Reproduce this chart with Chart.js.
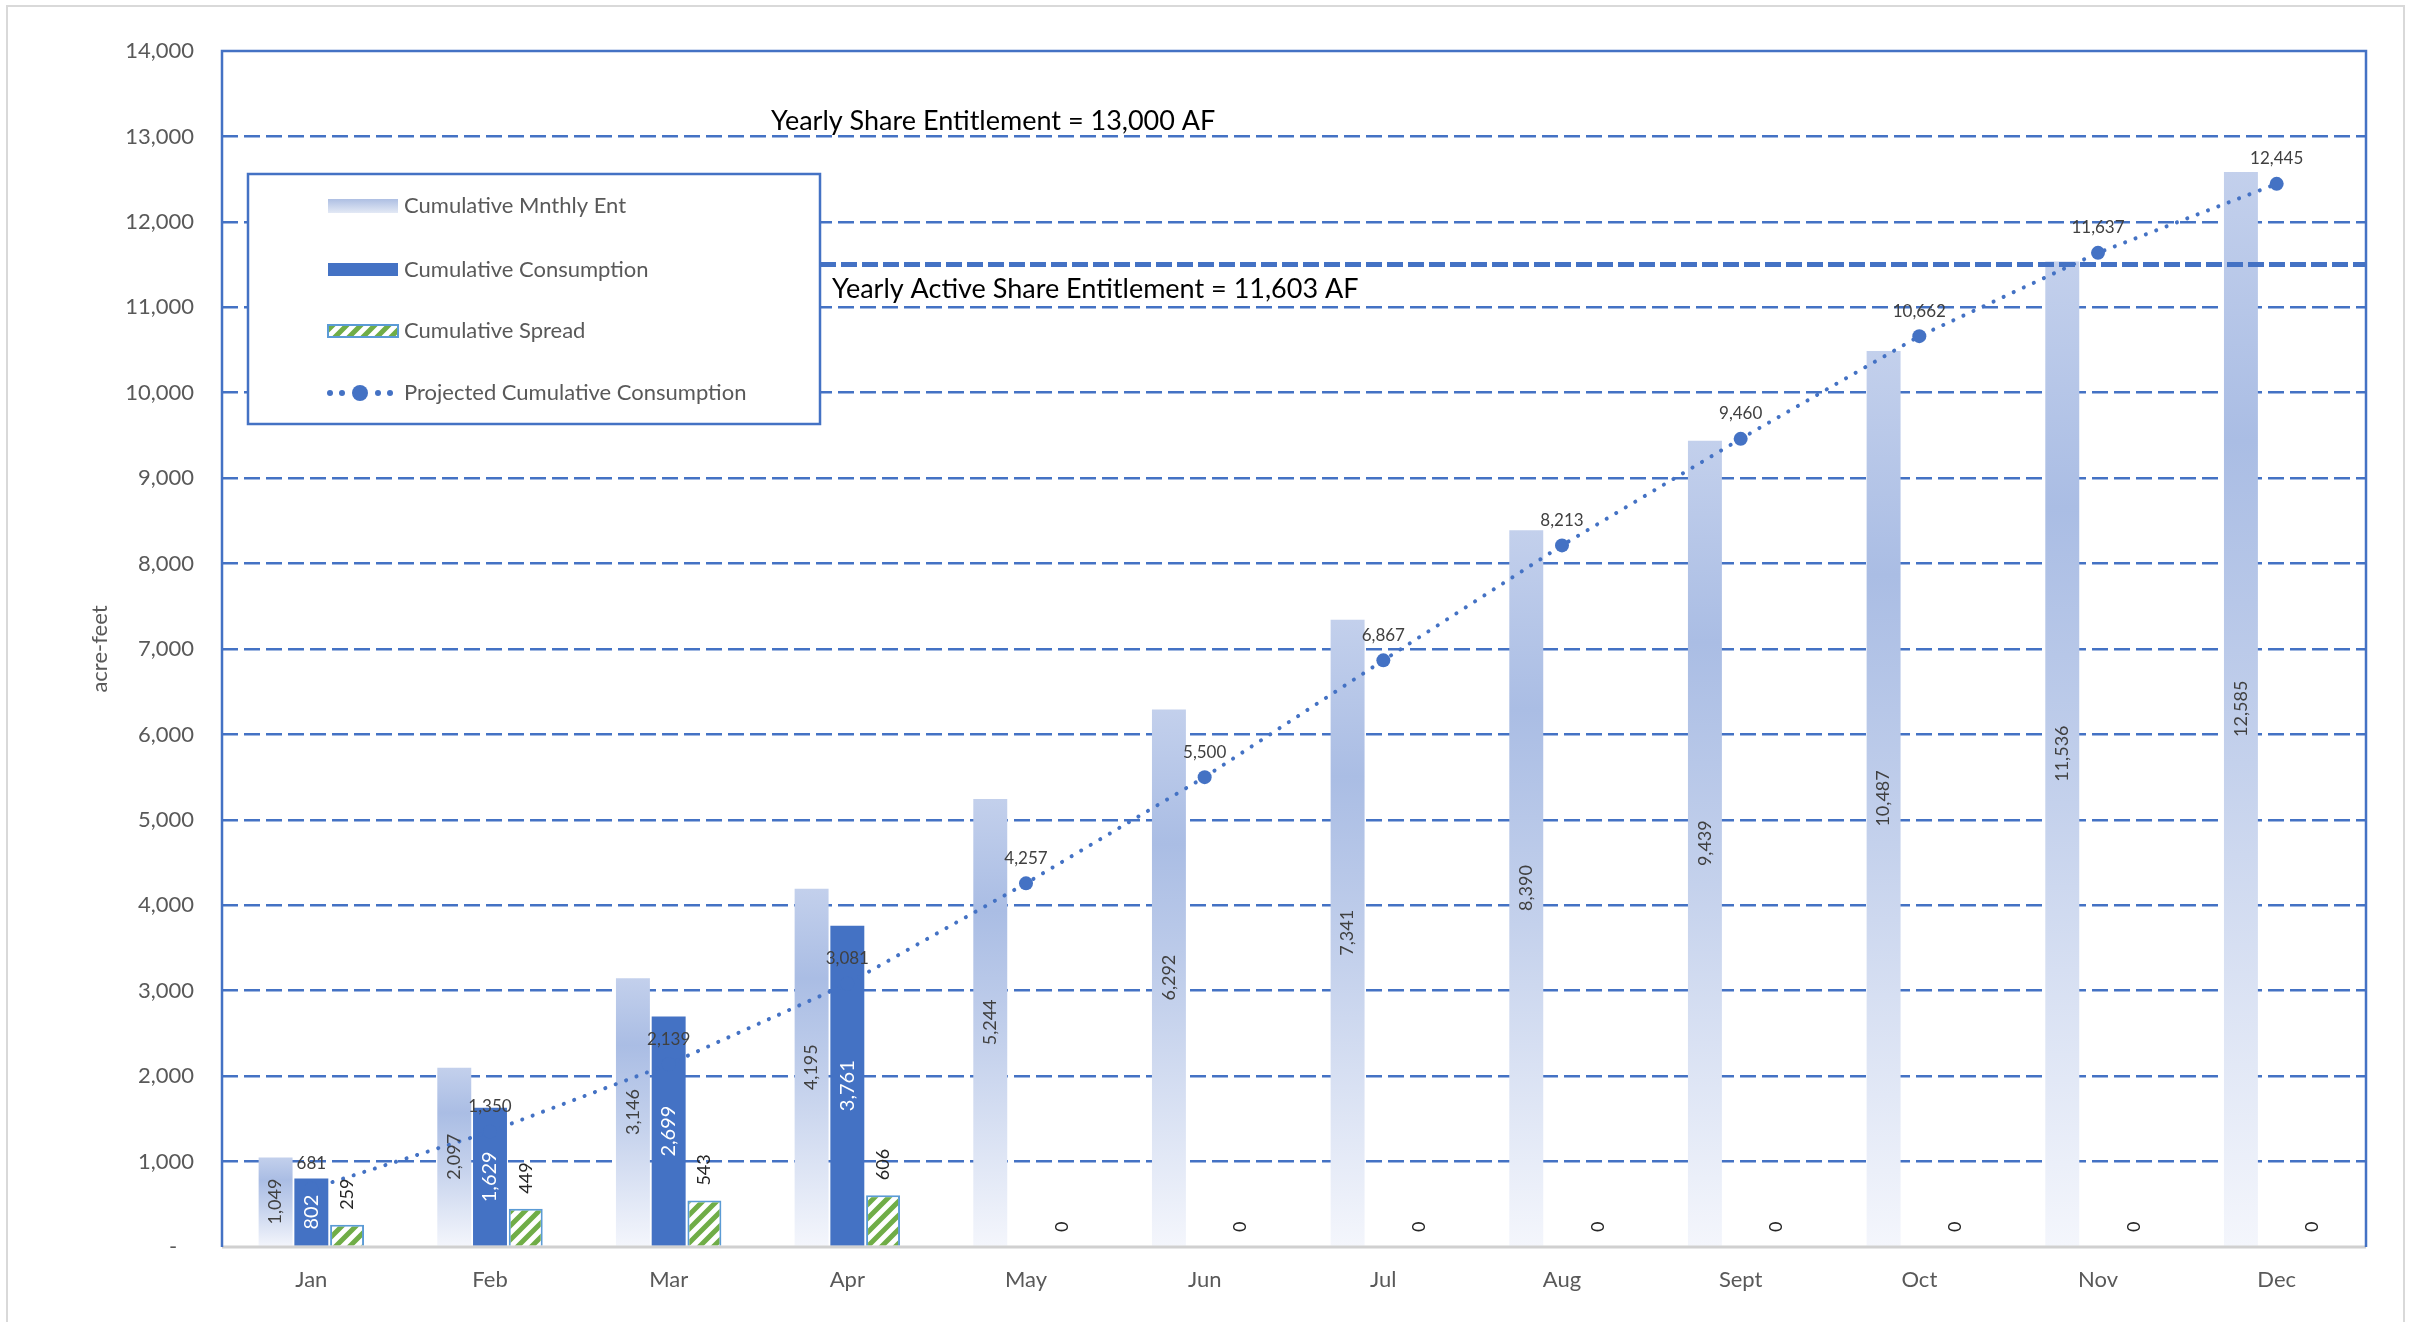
<!DOCTYPE html>
<html>
<head>
<meta charset="utf-8">
<script src="https://cdn.jsdelivr.net/npm/chart.js@4.4.1/dist/chart.umd.min.js"></script>
<style>
  html, body { margin: 0; padding: 0; background: #fff; }
  #wrap { width: 2416px; height: 1322px; }
</style>
</head>
<body>
<div id="wrap"><canvas id="chart"></canvas></div>
<script>
// data
const months = ["Jan", "Feb", "Mar", "Apr", "May", "Jun", "Jul", "Aug", "Sept", "Oct", "Nov", "Dec"];
const entValues = [1049, 2097, 3146, 4195, 5244, 6292, 7341, 8390, 9439, 10487, 11536, 12585];
const consumptionValues = [802, 1629, 2699, 3761, null, null, null, null, null, null, null, null];
const spreadValues = [259, 449, 543, 606, 0, 0, 0, 0, 0, 0, 0, 0];
const projectedValues = [681, 1350, 2139, 3081, 4257, 5500, 6867, 8213, 9460, 10662, 11637, 12445];
const yMin = 0;
const yMax = 14000;
const yStep = 1000;
const shareLineValue = 13000;
const activeLineValue = 11500;

const BLUE = "#4472C4";
const GREEN = "#70AD47";
const LIGHT_BLUE = "#5B9BD5";
const FONT = "Lato";

const fmt = (v) => v.toLocaleString("en-US");

// diagonal green stripes for the spread bars
function makeStripePattern(ctx) {
  const tile = document.createElement("canvas");
  tile.width = 14;
  tile.height = 14;
  const t = tile.getContext("2d");
  t.fillStyle = "#fff";
  t.fillRect(0, 0, 14, 14);
  t.strokeStyle = GREEN;
  t.lineWidth = 5;
  t.beginPath();
  t.moveTo(-2, 16); t.lineTo(16, -2);
  t.moveTo(-9, 9); t.lineTo(9, -9);
  t.moveTo(5, 23); t.lineTo(23, 5);
  t.stroke();
  return ctx.createPattern(tile, "repeat");
}

function entGradient(ctx, top, bottom) {
  const g = ctx.createLinearGradient(0, top, 0, bottom);
  g.addColorStop(0, "#c3d0ec");
  g.addColorStop(0.25, "#aabde4");
  g.addColorStop(0.55, "#c4d1ec");
  g.addColorStop(1, "#f4f6fc");
  return g;
}

function drawText(ctx, text, x, y, opts) {
  ctx.save();
  ctx.translate(x, y);
  if (opts.rotate) ctx.rotate(-Math.PI / 2);
  ctx.font = (opts.weight || "normal") + " " + opts.size + "px " + FONT;
  ctx.fillStyle = opts.color;
  ctx.textAlign = opts.align || "center";
  ctx.textBaseline = "middle";
  ctx.fillText(text, 0, 0);
  ctx.restore();
}

const canvas = document.getElementById("chart");
const stripes = makeStripePattern(canvas.getContext("2d"));

// labels on bars and points
const labelPlugin = {
  id: "labels",
  afterDatasetsDraw(chart) {
    const ctx = chart.ctx;
    chart.getDatasetMeta(0).data.forEach((bar, i) => {
      drawText(ctx, fmt(entValues[i]), bar.x, (bar.y + bar.base) / 2, { rotate: true, size: 18, color: "#404040" });
    });
    chart.getDatasetMeta(1).data.forEach((bar, i) => {
      if (consumptionValues[i] == null) return;
      drawText(ctx, fmt(consumptionValues[i]), bar.x, (bar.y + bar.base) / 2, { rotate: true, size: 20, color: "#fff" });
    });
    chart.getDatasetMeta(2).data.forEach((bar, i) => {
      drawText(ctx, fmt(spreadValues[i]), bar.x, bar.y - 15, { rotate: true, size: 18, color: "#262626", align: "left" });
    });
    chart.getDatasetMeta(3).data.forEach((pt, i) => {
      drawText(ctx, fmt(projectedValues[i]), pt.x, pt.y - 25, { size: 17, color: "#404040" });
    });
  },
};

// frame, entitlement lines, legend box, axis title
const decorPlugin = {
  id: "decor",
  afterDraw(chart) {
    const ctx = chart.ctx;
    const area = chart.chartArea;
    const y = chart.scales.y;
    const lx = 248, ly = 174, lw = 572, lh = 250;

    // outer chart border
    ctx.save();
    ctx.strokeStyle = "#D9D9D9";
    ctx.lineWidth = 2;
    ctx.strokeRect(7, 6, 2397, 1330);

    // plot frame
    ctx.strokeStyle = "#D0D0D0";
    ctx.lineWidth = 3;
    ctx.beginPath();
    ctx.moveTo(area.left, area.bottom);
    ctx.lineTo(area.right, area.bottom);
    ctx.stroke();
    ctx.strokeStyle = BLUE;
    ctx.lineWidth = 2.5;
    ctx.beginPath();
    ctx.moveTo(area.left, area.bottom);
    ctx.lineTo(area.left, area.top);
    ctx.lineTo(area.right, area.top);
    ctx.lineTo(area.right, area.bottom);
    ctx.stroke();

    // active entitlement line, starting at the legend box
    const ay = y.getPixelForValue(activeLineValue);
    ctx.strokeStyle = BLUE;
    ctx.lineWidth = 5;
    ctx.setLineDash([16, 5]);
    ctx.beginPath();
    ctx.moveTo(lx + lw, ay);
    ctx.lineTo(area.right, ay);
    ctx.stroke();
    ctx.setLineDash([]);

    // legend box
    ctx.fillStyle = "#fff";
    ctx.fillRect(lx, ly, lw, lh);
    ctx.strokeStyle = BLUE;
    ctx.lineWidth = 2.5;
    ctx.strokeRect(lx, ly, lw, lh);

    const sx = 328, sw = 70, tx = 404;
    const rows = [206, 270, 331, 393];
    const g = ctx.createLinearGradient(0, rows[0] - 7, 0, rows[0] + 7);
    g.addColorStop(0, "#aebfe3");
    g.addColorStop(1, "#e3e9f5");
    ctx.fillStyle = g;
    ctx.fillRect(sx, rows[0] - 7, sw, 14);
    ctx.fillStyle = BLUE;
    ctx.fillRect(sx, rows[1] - 7, sw, 13);
    ctx.fillStyle = stripes;
    ctx.fillRect(sx, rows[2] - 6, sw, 12);
    ctx.strokeStyle = LIGHT_BLUE;
    ctx.lineWidth = 2;
    ctx.strokeRect(sx, rows[2] - 6, sw, 12);
    ctx.fillStyle = BLUE;
    [sx + 2, sx + 14, sx + 50, sx + 62].forEach((dx) => {
      ctx.beginPath();
      ctx.arc(dx, rows[3], 3, 0, Math.PI * 2);
      ctx.fill();
    });
    ctx.beginPath();
    ctx.arc(sx + 32, rows[3], 8, 0, Math.PI * 2);
    ctx.fill();

    const names = chart.data.datasets.map((d) => d.label);
    names.forEach((name, i) => {
      drawText(ctx, name, tx, rows[i], { size: 22, color: "#595959", align: "left" });
    });

    // entitlement annotations
    drawText(ctx, "Yearly Share Entitlement = 13,000 AF", 771, y.getPixelForValue(shareLineValue) - 15, { size: 27, color: "#000", align: "left" });
    drawText(ctx, "Yearly Active Share Entitlement = 11,603 AF", 832, ay + 25, { size: 27, color: "#000", align: "left" });

    // y axis title
    drawText(ctx, "acre-feet", 100, (area.top + area.bottom) / 2, { rotate: true, size: 22, color: "#595959" });
    ctx.restore();
  },
};

Chart.defaults.font.family = FONT;

new Chart(canvas, {
  type: "bar",
  data: {
    labels: months,
    datasets: [
      {
        label: "Cumulative Mnthly Ent",
        data: entValues,
        backgroundColor: (c) => {
          const chart = c.chart;
          if (!chart.chartArea || !c.parsed) return "#b4c6e7";
          const ys = chart.scales.y;
          return entGradient(chart.ctx, ys.getPixelForValue(c.parsed.y), ys.getPixelForValue(0));
        },
        order: 1,
      },
      {
        label: "Cumulative Consumption",
        data: consumptionValues,
        backgroundColor: BLUE,
        order: 1,
      },
      {
        label: "Cumulative Spread",
        data: spreadValues,
        backgroundColor: stripes,
        borderColor: LIGHT_BLUE,
        borderWidth: 2,
        order: 1,
      },
      {
        type: "line",
        label: "Projected Cumulative Consumption",
        data: projectedValues,
        borderColor: BLUE,
        borderWidth: 4,
        borderDash: [0.1, 11],
        borderCapStyle: "round",
        pointRadius: 7,
        pointBackgroundColor: BLUE,
        pointBorderWidth: 0,
        fill: false,
        tension: 0,
        order: 0,
      },
    ],
  },
  options: {
    responsive: true,
    maintainAspectRatio: false,
    animation: false,
    layout: {
      padding: { top: 51, right: 50, left: 0, bottom: 0 },
    },
    datasets: {
      bar: {
        categoryPercentage: 0.6,
        barPercentage: 0.95,
      },
    },
    plugins: {
      legend: { display: false },
      tooltip: { enabled: false },
    },
    scales: {
      x: {
        grid: { display: false, drawTicks: false },
        border: { display: false },
        ticks: { padding: 20, color: "#595959", font: { size: 22 } },
        afterFit: (s) => { s.height = 75; },
      },
      y: {
        min: yMin,
        max: yMax,
        ticks: {
          stepSize: yStep,
          padding: 28,
          color: "#595959",
          font: { size: 22 },
          callback: (v) => (v === 0 ? "-   " : fmt(v)),
        },
        grid: {
          color: (c) => (c.tick.value === yMin || c.tick.value === yMax ? "rgba(0,0,0,0)" : BLUE),
          lineWidth: 2.5,
          drawTicks: false,
        },
        border: { display: false, dash: [16, 6] },
        afterFit: (s) => { s.width = 222; },
      },
    },
  },
  plugins: [labelPlugin, decorPlugin],
});
</script>
</body>
</html>
